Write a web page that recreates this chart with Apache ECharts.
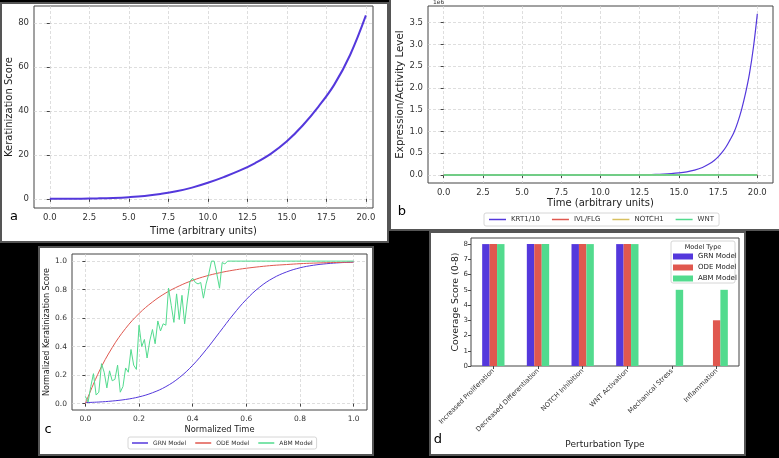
<!DOCTYPE html>
<html>
<head>
<meta charset="utf-8">
<script src="https://cdn.jsdelivr.net/npm/echarts@6/dist/echarts.min.js"></script>
<style>
  html, body { margin: 0; padding: 0; background: #000; }
  #chart { width: 779px; height: 458px; }
</style>
</head>
<body>
<div id="chart"></div>
<script>
// panel a: keratinization score over time
const timeA = [0, 1, 2, 3, 4, 5, 6, 7, 8, 9, 10, 11, 12, 13, 14, 15, 16, 17, 18, 19, 20];
const keratA = [0.0, 0.02, 0.08, 0.2, 0.4, 0.75, 1.3, 2.2, 3.4, 5.1, 7.3, 9.9, 12.8, 16.3, 20.6, 26.2, 33.4, 42.0, 52.0, 65.5, 83.5];

// panel b: expression / activity levels
const timeB = [0, 1, 2, 3, 4, 5, 6, 7, 8, 9, 10, 10.5, 11, 11.5, 12, 12.5, 13, 13.5, 14, 14.5, 15, 15.5, 16, 16.5,
  17, 17.25, 17.5, 17.75, 18, 18.25, 18.5, 18.75, 19, 19.25, 19.5, 19.75, 20];
const krtB = [0.1, 0.2, 0.5, 1.2, 2.9, 7, 17, 41, 99, 240, 580, 900, 1400, 2160, 3370, 5200, 8100, 12500, 19400, 30000,
  46500, 72000, 111600, 173000, 268000, 334000, 415000, 517000, 643000, 800000, 970000, 1210000, 1510000, 1880000,
  2330000, 2930000, 3705000];
const flatTimeB = [0, 20];
const ivlB = [0, 0];
const notchB = [0, 0];
const wntB = [0, 0];

// panel c: normalized model comparison
const timeC = [0, 0.05, 0.1, 0.15, 0.2, 0.25, 0.3, 0.35, 0.4, 0.45, 0.5, 0.55, 0.6, 0.65, 0.7, 0.75, 0.8, 0.85, 0.9, 0.95, 1.0];
const grnC = [0.007, 0.011, 0.018, 0.029, 0.047, 0.076, 0.119, 0.182, 0.269, 0.378, 0.5, 0.622, 0.731, 0.818, 0.881,
  0.924, 0.953, 0.971, 0.982, 0.989, 0.993];
const odeC = [0, 0.221, 0.393, 0.528, 0.632, 0.713, 0.777, 0.826, 0.865, 0.895, 0.918, 0.936, 0.95, 0.961, 0.97,
  0.976, 0.982, 0.986, 0.989, 0.991, 0.993];
const timeAbm = [0, 0.01, 0.02, 0.03, 0.04, 0.05, 0.06, 0.07, 0.08, 0.09, 0.1, 0.11, 0.12, 0.13, 0.14, 0.15, 0.16,
  0.17, 0.18, 0.19, 0.2, 0.21, 0.22, 0.23, 0.24, 0.25, 0.26, 0.27, 0.28, 0.29, 0.3, 0.31, 0.32, 0.33, 0.34, 0.35,
  0.36, 0.37, 0.38, 0.39, 0.4, 0.41, 0.42, 0.43, 0.44, 0.45, 0.46, 0.47, 0.48, 0.49, 0.5, 0.51, 0.52, 0.53, 1.0];
const abmC = [0.05, 0.01, 0.12, 0.21, 0.06, 0.08, 0.28, 0.22, 0.11, 0.23,
  0.16, 0.17, 0.27, 0.08, 0.12, 0.25, 0.22, 0.38, 0.27, 0.24,
  0.55, 0.40, 0.45, 0.32, 0.44, 0.52, 0.42, 0.58, 0.51, 0.56,
  0.55, 0.81, 0.69, 0.57, 0.77, 0.59, 0.76, 0.56, 0.72, 0.86,
  0.88, 0.85, 0.84, 0.85, 0.74, 0.84, 0.91, 1.00, 1.00, 0.91,
  0.81, 0.99, 0.98, 1.00, 1.00];

// panel d: perturbation coverage
const perturbations = ['Increased Proliferation', 'Decreased Differentiation', 'NOTCH Inhibition',
  'WNT Activation', 'Mechanical Stress', 'Inflammation'];
const grnD = [8, 8, 8, 8, 0, 0];
const odeD = [8, 8, 8, 8, 0, 3];
const abmD = [8, 8, 8, 8, 5, 5];

// tick labels
const ticksTime = [0, 2.5, 5, 7.5, 10, 12.5, 15, 17.5, 20];
const ticksA = [0, 20, 40, 60, 80];
const ticksB = [0, 500000, 1000000, 1500000, 2000000, 2500000, 3000000, 3500000];
const ticksC = [0, 0.2, 0.4, 0.6, 0.8, 1.0];
const ticksD = [0, 1, 2, 3, 4, 5, 6, 7, 8];

const BLUE = '#5438dc', RED = '#e0584f', YELLOW = '#d8c060', GREEN = '#52db8e';
const FONT = 'DejaVu Sans';
const AXIS = '#444';

const pairs = (xs, ys) => xs.map((x, i) => [x, ys[i]]);

function valueAxis(grid, min, max, ticks, fmt, fs, extra) {
  return Object.assign({
    type: 'value', gridIndex: grid, min: min, max: max,
    axisLine: { show: false },
    axisTick: { show: true, length: 3, customValues: ticks, lineStyle: { color: AXIS } },
    axisLabel: { customValues: ticks, formatter: fmt, fontSize: fs, color: '#333', margin: 5, fontFamily: FONT },
    splitLine: { show: true, lineStyle: { color: '#d0d0d0', type: [3, 2], width: 0.7 } },
    nameLocation: 'middle',
    nameTextStyle: { color: '#222', fontFamily: FONT }
  }, extra || {});
}

const line = (name, x, y, data, color, w, extra) => Object.assign({
  name: name, type: 'line', xAxisIndex: x, yAxisIndex: y, data: data,
  symbol: 'none', lineStyle: { color: color, width: w }, itemStyle: { color: color }
}, extra || {});

const chart = echarts.init(document.getElementById('chart'), null, { renderer: 'canvas' });

const option = {
  animation: false,
  backgroundColor: '#000',
  textStyle: { fontFamily: FONT },
  graphic: [
    { type: 'rect', z: -10, shape: { x: 1, y: 3, width: 387, height: 239 }, style: { fill: '#fff', stroke: '#555', lineWidth: 2 } },
    { type: 'rect', z: -10, shape: { x: 390, y: -1, width: 390, height: 231 }, style: { fill: '#fff', stroke: '#555', lineWidth: 2 } },
    { type: 'rect', z: -10, shape: { x: 39, y: 247, width: 334, height: 208 }, style: { fill: '#fff', stroke: '#555', lineWidth: 2 } },
    { type: 'rect', z: -10, shape: { x: 430, y: 232, width: 315, height: 223 }, style: { fill: '#fff', stroke: '#555', lineWidth: 2 } },
    { type: 'text', z: 10, x: 14, y: 217, style: { text: 'a', font: '13px "DejaVu Sans"', fill: '#000', align: 'center', verticalAlign: 'middle' } },
    { type: 'text', z: 10, x: 402, y: 212, style: { text: 'b', font: '13px "DejaVu Sans"', fill: '#000', align: 'center', verticalAlign: 'middle' } },
    { type: 'text', z: 10, x: 48, y: 430, style: { text: 'c', font: '13px "DejaVu Sans"', fill: '#000', align: 'center', verticalAlign: 'middle' } },
    { type: 'text', z: 10, x: 438, y: 440, style: { text: 'd', font: '13px "DejaVu Sans"', fill: '#000', align: 'center', verticalAlign: 'middle' } },
    { type: 'text', z: 10, x: 433, y: -1, style: { text: '1e6', font: '6px "DejaVu Sans"', fill: '#333' } },
    // legend frame and title for panel d
    { type: 'rect', z: 5, shape: { x: 671, y: 241, width: 64, height: 42, r: 2 }, style: { fill: 'rgba(255,255,255,0.8)', stroke: '#ccc', lineWidth: 0.8 } },
    { type: 'text', z: 10, x: 703, y: 247, style: { text: 'Model Type', font: '6.5px "DejaVu Sans"', fill: '#222', align: 'center', verticalAlign: 'middle' } }
  ],
  grid: [
    { left: 34, top: 6, width: 339, height: 202, show: true, borderColor: AXIS, borderWidth: 1, outerBoundsMode: 'none' },
    { left: 428, top: 6, width: 345, height: 177, show: true, borderColor: AXIS, borderWidth: 1, outerBoundsMode: 'none' },
    { left: 72, top: 254, width: 295, height: 156, show: true, borderColor: AXIS, borderWidth: 1, outerBoundsMode: 'none' },
    { left: 471, top: 238, width: 268, height: 128, show: true, borderColor: AXIS, borderWidth: 1, outerBoundsMode: 'none' }
  ],
  xAxis: [
    valueAxis(0, -1, 20.45, ticksTime, v => v.toFixed(1), 8.5, { name: 'Time (arbitrary units)', nameGap: 18, nameTextStyle: { fontSize: 10, color: '#222', fontFamily: FONT } }),
    valueAxis(1, -1, 21, ticksTime, v => v.toFixed(1), 8.5, { name: 'Time (arbitrary units)', nameGap: 15, nameTextStyle: { fontSize: 10, color: '#222', fontFamily: FONT } }),
    valueAxis(2, -0.05, 1.05, ticksC, v => v.toFixed(1), 7.5, { name: 'Normalized Time', nameGap: 16, nameTextStyle: { fontSize: 8.3, color: '#222', fontFamily: FONT } }),
    {
      type: 'category', gridIndex: 3, data: perturbations,
      axisLine: { show: false },
      axisTick: { show: true, alignWithLabel: true, length: 3, lineStyle: { color: AXIS } },
      axisLabel: { interval: 0, rotate: 45, fontSize: 6.7, color: '#333', margin: 4, fontFamily: FONT },
      splitLine: { show: false },
      name: 'Perturbation Type', nameLocation: 'middle', nameGap: 74,
      nameTextStyle: { fontSize: 9, color: '#222', fontFamily: FONT }
    }
  ],
  yAxis: [
    valueAxis(0, -4.18, 87.8, ticksA, v => String(v), 8.5, { name: 'Keratinization Score', nameGap: 20, nameTextStyle: { fontSize: 10, color: '#222', fontFamily: FONT } }),
    valueAxis(1, -185000, 3885000, ticksB, v => (v / 1e6).toFixed(1), 8.5, { name: 'Expression/Activity Level', nameGap: 22, nameTextStyle: { fontSize: 10.3, color: '#222', fontFamily: FONT } }),
    valueAxis(2, -0.045, 1.05, ticksC, v => v.toFixed(1), 7.5, { name: 'Normalized Keratinization Score', nameGap: 21, nameTextStyle: { fontSize: 8, color: '#222', fontFamily: FONT } }),
    valueAxis(3, 0, 8.4, ticksD, v => String(v), 7, {
      name: 'Coverage Score (0-8)', nameGap: 11, splitLine: { show: false },
      axisLabel: { customValues: ticksD, fontSize: 7, color: '#333', margin: 3, fontFamily: FONT },
      nameTextStyle: { fontSize: 9.3, color: '#222', fontFamily: FONT }
    })
  ],
  legend: [
    {
      left: 484, top: 213, itemWidth: 17, itemHeight: 1.5, itemGap: 12, icon: 'rect',
      padding: [3, 5], borderColor: '#ccc', borderWidth: 0.8, borderRadius: 2,
      textStyle: { fontSize: 7, color: '#333', fontFamily: FONT },
      data: ['KRT1/10', 'IVL/FLG', 'NOTCH1', 'WNT']
    },
    {
      left: 128, top: 437, itemWidth: 16, itemHeight: 1.5, itemGap: 9, icon: 'rect',
      padding: [3, 4], borderColor: '#ccc', borderWidth: 0.8, borderRadius: 2,
      textStyle: { fontSize: 6, color: '#333', fontFamily: FONT },
      data: ['GRN Model', 'ODE Model', 'ABM Model']
    },
    {
      left: 673, top: 253, orient: 'vertical', itemWidth: 20, itemHeight: 6, itemGap: 4, icon: 'rect',
      padding: 0, z: 11,
      textStyle: { fontSize: 7, color: '#222', fontFamily: FONT },
      data: ['GRN Model', 'ODE Model', 'ABM Model']
    }
  ],
  series: [
    line('Keratinization', 0, 0, pairs(timeA, keratA), BLUE, 2, { smooth: 0.4 }),

    line('KRT1/10', 1, 1, pairs(timeB, krtB), BLUE, 1.2, { smooth: 0.4 }),
    line('IVL/FLG', 1, 1, pairs(flatTimeB, ivlB), RED, 1.2),
    line('NOTCH1', 1, 1, pairs(flatTimeB, notchB), YELLOW, 1.2),
    line('WNT', 1, 1, pairs(flatTimeB, wntB), GREEN, 1.5),

    line('GRN Model', 2, 2, pairs(timeC, grnC), BLUE, 1, { smooth: 0.4 }),
    line('ODE Model', 2, 2, pairs(timeC, odeC), RED, 1, { smooth: 0.4 }),
    line('ABM Model', 2, 2, pairs(timeAbm, abmC), GREEN, 1),

    { name: 'GRN Model', type: 'bar', xAxisIndex: 3, yAxisIndex: 3, data: grnD, itemStyle: { color: BLUE }, barGap: '0%', barCategoryGap: '50%' },
    { name: 'ODE Model', type: 'bar', xAxisIndex: 3, yAxisIndex: 3, data: odeD, itemStyle: { color: RED }, barGap: '0%', barCategoryGap: '50%' },
    { name: 'ABM Model', type: 'bar', xAxisIndex: 3, yAxisIndex: 3, data: abmD, itemStyle: { color: GREEN }, barGap: '0%', barCategoryGap: '50%' }
  ]
};

chart.setOption(option);
</script>
</body>
</html>
